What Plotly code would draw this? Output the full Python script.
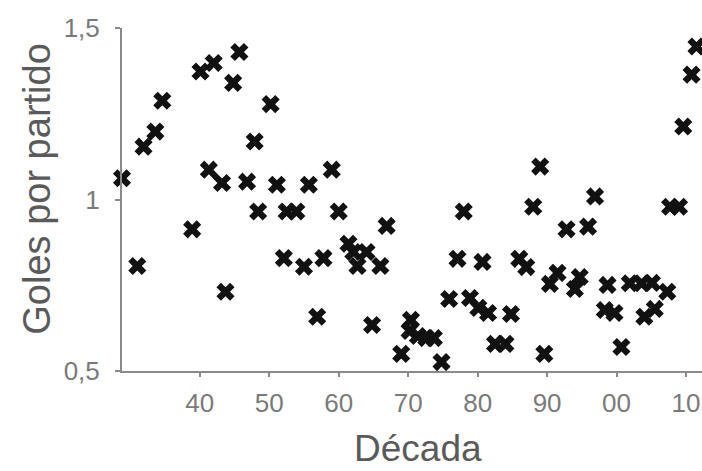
import plotly.graph_objects as go

# Año (posición decimal en el eje) y goles por partido
anio = [1928.8, 1931.0, 1931.9, 1933.1, 1933.6, 1934.6, 1938.9, 1940.1, 1941.3, 1942.0,
        1943.2, 1943.7, 1944.8, 1945.7, 1946.8, 1947.9, 1948.4, 1950.2, 1951.1, 1952.1,
        1952.5, 1953.9, 1955.0, 1955.7, 1956.9, 1957.8, 1959.0, 1960.0, 1961.4, 1962.1,
        1964.0, 1962.7, 1966.0, 1964.8, 1966.9, 1969.0, 1970.4, 1970.2, 1971.4, 1972.6,
        1973.7, 1974.8, 1975.9, 1977.1, 1978.0, 1978.9, 1980.1, 1980.7, 1981.5, 1982.5,
        1984.0, 1984.8, 1986.0, 1987.0, 1988.0, 1989.0, 1989.6, 1990.4, 1991.5, 1992.8,
        1994.0, 1994.7, 1995.9, 1996.9, 1998.3, 1998.7, 1999.7, 2000.7, 2001.9, 2003.6,
        2004.0, 2005.1, 2005.5, 2007.3, 2007.7, 2009.0, 2009.6, 2010.8, 2011.5]
goles = [1.062, 0.806, 1.154, 1.510, 1.198, 1.288, 0.913, 1.373, 1.087, 1.398,
         1.048, 0.731, 1.340, 1.430, 1.052, 1.169, 0.965, 1.278, 1.043, 0.829,
         0.965, 0.965, 0.804, 1.043, 0.658, 0.829, 1.087, 0.965, 0.871, 0.847,
         0.847, 0.806, 0.806, 0.634, 0.923, 0.550, 0.649, 0.617, 0.602, 0.596,
         0.596, 0.526, 0.710, 0.827, 0.965, 0.713, 0.684, 0.818, 0.669, 0.579,
         0.579, 0.666, 0.827, 0.803, 0.979, 1.096, 0.550, 0.754, 0.786, 0.913,
         0.739, 0.774, 0.921, 1.009, 0.678, 0.751, 0.669, 0.570, 0.756, 0.756,
         0.658, 0.757, 0.681, 0.731, 0.979, 0.979, 1.213, 1.364, 1.446]

x_ticks = [1940, 1950, 1960, 1970, 1980, 1990, 2000, 2010]
x_labels = ["40", "50", "60", "70", "80", "90", "00", "10"]
y_ticks = [0.5, 1.0, 1.5]
y_labels = ["0,5", "1", "1,5"]

FONT = "Liberation Sans, Arial, sans-serif"
AXIS = "#8a8a8a"

fig = go.Figure(go.Scatter(
    x=anio, y=goles, mode="markers", cliponaxis=False,
    marker=dict(symbol="x", size=16, color="#111111", line=dict(width=0)),
    hoverinfo="x+y", showlegend=False,
))

fig.update_layout(
    width=702, height=471,
    margin=dict(l=122, r=0, t=28, b=100),
    paper_bgcolor="white", plot_bgcolor="white",
    font=dict(family=FONT, color="#7a7a7a", size=26),
    xaxis=dict(range=[1928.8, 2012.3], tickvals=x_ticks, ticktext=x_labels,
               showgrid=False, zeroline=False, showline=True, linecolor=AXIS, linewidth=2,
               ticks="outside", ticklen=4, tickwidth=2, tickcolor=AXIS,
               tickfont=dict(size=26, color="#7a7a7a"), ticklabelstandoff=4),
    yaxis=dict(range=[0.5, 1.5], tickvals=y_ticks, ticktext=y_labels,
               showgrid=False, zeroline=False, showline=True, linecolor=AXIS, linewidth=2,
               ticks="outside", ticklen=5, tickwidth=2, tickcolor=AXIS,
               tickfont=dict(size=26, color="#7a7a7a"), ticklabelstandoff=10),
    annotations=[
        dict(text="Década", xref="paper", yref="paper", x=0.511, y=-0.225,
             xanchor="center", yanchor="middle", showarrow=False,
             font=dict(family=FONT, size=37, color="#5a5a5a")),
        dict(text="Goles por partido", xref="paper", yref="paper", x=-0.148, y=0.532,
             xanchor="center", yanchor="middle", textangle=-90, showarrow=False,
             font=dict(family=FONT, size=38, color="#5a5a5a")),
    ],
)

fig.write_html(
    "out.html",
    config={"displayModeBar": False},
    post_script="document.body.style.margin='0';document.body.style.overflow='hidden';",
)
